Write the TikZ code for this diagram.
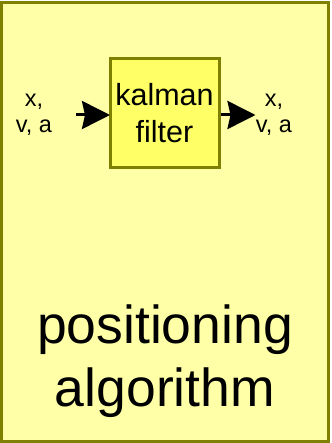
\documentclass[tikz,border=0pt]{standalone}
\usepackage{fontspec}
\setmainfont{Liberation Sans}
\usetikzlibrary{arrows.meta}
\definecolor{outerfill}{RGB}{255,255,168}
\definecolor{innerfill}{RGB}{255,255,102}
\definecolor{olive}{RGB}{128,128,0}
\tikzset{
  outerbox/.style={draw=olive, fill=outerfill, line width=3pt},
  innerbox/.style={draw=olive, fill=innerfill, line width=3pt, minimum width=109pt, minimum height=109pt, inner sep=0pt, align=center, font=\fontsize{30.5}{37}\selectfont},
  smalltext/.style={font=\fontsize{23.5}{26}\selectfont, align=center, inner sep=0pt},
  flowarrow/.style={line width=3pt, -{Stealth[inset=3pt,length=28pt,width=28pt]}, shorten >=-1.5pt}
}
\begin{document}
\begin{tikzpicture}[x=1pt,y=-1pt]
\useasboundingbox (0,0) rectangle (331,443);
\draw[outerbox] (1.5,3) rectangle (328.5,441);
\node[innerbox] (kf) at (164.5,113.5) {kalman\\filter};
\node[smalltext] (in) at (34,115) {x,\\v, a};
\node[smalltext] (out) at (274,115) {x,\\v, a};
\coordinate (ina) at (76,115);
\draw[flowarrow] (ina) -- (ina -| kf.west);
\coordinate (outa) at (254,115);
\draw[flowarrow] (outa -| kf.east) -- (outa);
\node[font=\fontsize{53.5}{63}\selectfont, align=center, inner sep=0pt] (pa) at (165,361) {positioning\\algorithm};
\end{tikzpicture}
\end{document}
